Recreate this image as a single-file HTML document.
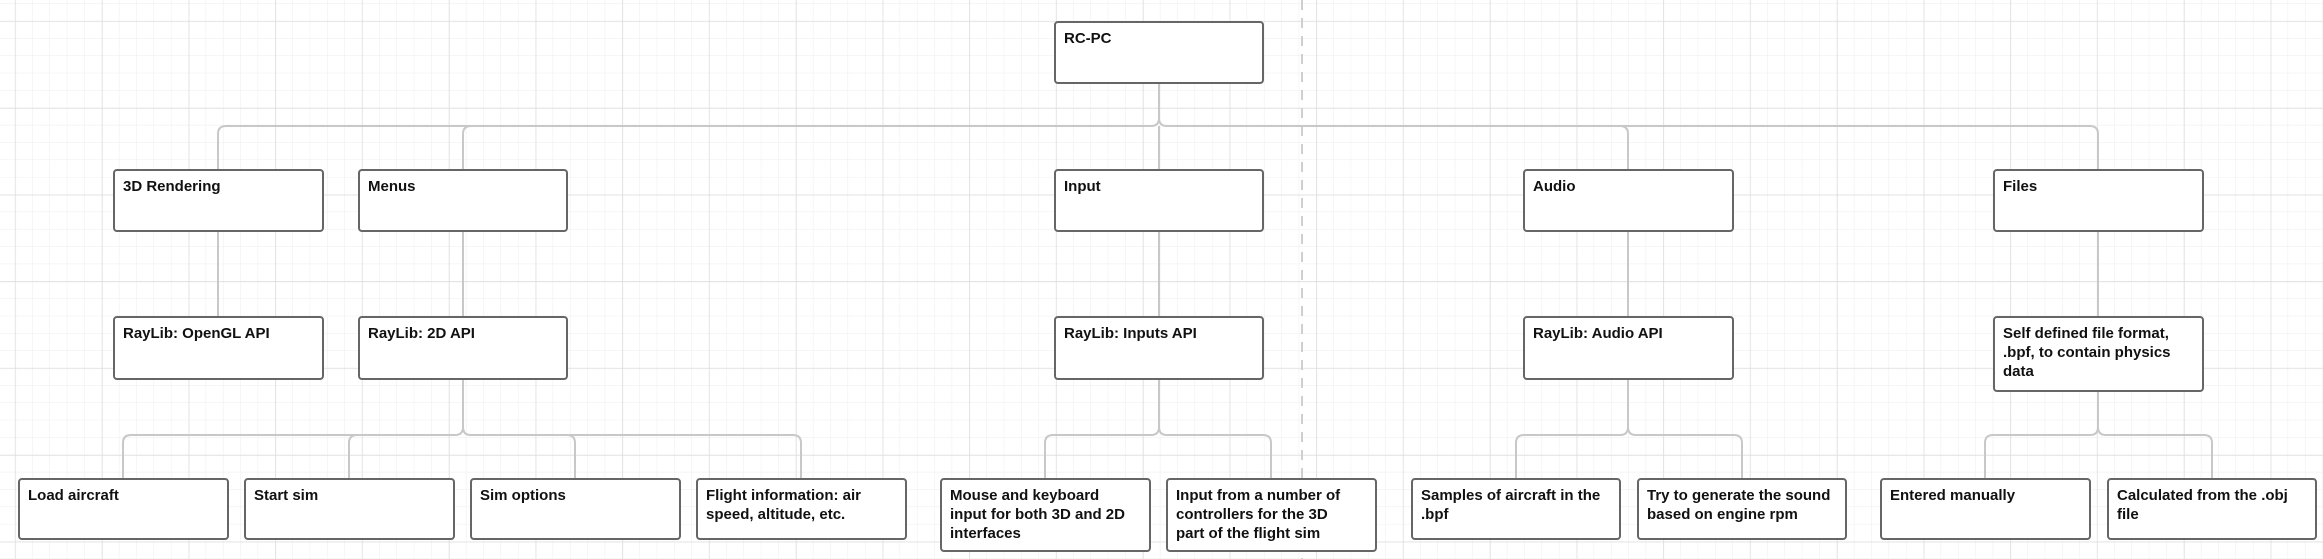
<!DOCTYPE html>
<html><head><meta charset="utf-8"><style>
html,body{margin:0;padding:0;background:#fff;}
svg{display:block;}
text{font-family:"Liberation Sans",Arial,sans-serif;font-weight:bold;font-size:15px;fill:#111;}
</style></head><body>
<svg width="2323" height="559" viewBox="0 0 2323 559" xmlns="http://www.w3.org/2000/svg">
<defs>
<pattern id="minor" x="15.25" y="21.25" width="17.35" height="17.35" patternUnits="userSpaceOnUse">
<path d="M17.35 0V17.35M0 17.35H17.35" stroke="#ededed" stroke-width="1" fill="none"/>
</pattern>
<pattern id="major" x="15.25" y="21.25" width="86.75" height="86.75" patternUnits="userSpaceOnUse">
<path d="M0 0V86.75M0 0H86.75" stroke="#dcdcdc" stroke-width="1.2" fill="none"/>
</pattern>
</defs>
<rect width="2323" height="559" fill="#fff"/>
<rect width="2323" height="559" fill="url(#minor)"/>
<rect width="2323" height="559" fill="url(#major)"/>
<line x1="1302" y1="0" x2="1302" y2="559" stroke="#cfcfcf" stroke-width="2" stroke-dasharray="10,8"/>
<g fill="none" stroke="#c8c8c8" stroke-width="2">
<!-- top bus -->
<path d="M1159 83V118Q1159 126 1151 126H226Q218 126 218 134V170"/>
<path d="M463 170V134Q463 126 471 126"/>
<path d="M1159 118Q1159 126 1167 126H2090Q2098 126 2098 134V170"/>
<path d="M1159 126V170"/>
<path d="M1620 126Q1628 126 1628 134V170"/>
<!-- verticals -->
<path d="M218 231V317"/><path d="M463 231V317"/><path d="M1159 231V317"/><path d="M1628 231V317"/><path d="M2098 231V317"/>
<!-- menus lower bus -->
<path d="M463 379V427Q463 435 455 435H131Q123 435 123 443V479"/>
<path d="M349 479V443Q349 435 357 435"/>
<path d="M463 427Q463 435 471 435H793Q801 435 801 443V479"/>
<path d="M567 435Q575 435 575 443V479"/>
<!-- input -->
<path d="M1159 379V427Q1159 435 1151 435H1053Q1045 435 1045 443V479"/>
<path d="M1159 427Q1159 435 1167 435H1263Q1271 435 1271 443V479"/>
<!-- audio -->
<path d="M1628 379V427Q1628 435 1620 435H1524Q1516 435 1516 443V479"/>
<path d="M1628 427Q1628 435 1636 435H1734Q1742 435 1742 443V479"/>
<!-- files -->
<path d="M2098 391V427Q2098 435 2090 435H1993Q1985 435 1985 443V479"/>
<path d="M2098 427Q2098 435 2106 435H2204Q2212 435 2212 443V479"/>
</g>
<g fill="#fff" stroke="#666" stroke-width="2">
<rect x="1055" y="22" width="208" height="61" rx="3"/>
<rect x="114" y="170" width="209" height="61" rx="3"/>
<rect x="359" y="170" width="208" height="61" rx="3"/>
<rect x="1055" y="170" width="208" height="61" rx="3"/>
<rect x="1524" y="170" width="209" height="61" rx="3"/>
<rect x="1994" y="170" width="209" height="61" rx="3"/>
<rect x="114" y="317" width="209" height="62" rx="3"/>
<rect x="359" y="317" width="208" height="62" rx="3"/>
<rect x="1055" y="317" width="208" height="62" rx="3"/>
<rect x="1524" y="317" width="209" height="62" rx="3"/>
<rect x="1994" y="317" width="209" height="74" rx="3"/>
<rect x="19" y="479" width="209" height="60" rx="3"/>
<rect x="245" y="479" width="209" height="60" rx="3"/>
<rect x="471" y="479" width="209" height="60" rx="3"/>
<rect x="697" y="479" width="209" height="60" rx="3"/>
<rect x="941" y="479" width="209" height="72" rx="3"/>
<rect x="1167" y="479" width="209" height="72" rx="3"/>
<rect x="1412" y="479" width="208" height="60" rx="3"/>
<rect x="1638" y="479" width="208" height="60" rx="3"/>
<rect x="1881" y="479" width="209" height="60" rx="3"/>
<rect x="2108" y="479" width="208" height="60" rx="3"/>
</g>
<text x="1064" y="43">RC-PC</text>
<text x="123" y="191">3D Rendering</text>
<text x="368" y="191">Menus</text>
<text x="1064" y="191">Input</text>
<text x="1533" y="191">Audio</text>
<text x="2003" y="191">Files</text>
<text x="123" y="338">RayLib: OpenGL API</text>
<text x="368" y="338">RayLib: 2D API</text>
<text x="1064" y="338">RayLib: Inputs API</text>
<text x="1533" y="338">RayLib: Audio API</text>
<text x="2003" y="338">Self defined file format,</text>
<text x="2003" y="357">.bpf, to contain physics</text>
<text x="2003" y="376">data</text>
<text x="28" y="500">Load aircraft</text>
<text x="254" y="500">Start sim</text>
<text x="480" y="500">Sim options</text>
<text x="706" y="500">Flight information: air</text>
<text x="706" y="519">speed, altitude, etc.</text>
<text x="950" y="500">Mouse and keyboard</text>
<text x="950" y="519">input for both 3D and 2D</text>
<text x="950" y="538">interfaces</text>
<text x="1176" y="500">Input from a number of</text>
<text x="1176" y="519">controllers for the 3D</text>
<text x="1176" y="538">part of the flight sim</text>
<text x="1421" y="500">Samples of aircraft in the</text>
<text x="1421" y="519">.bpf</text>
<text x="1647" y="500">Try to generate the sound</text>
<text x="1647" y="519">based on engine rpm</text>
<text x="1890" y="500">Entered manually</text>
<text x="2117" y="500">Calculated from the .obj</text>
<text x="2117" y="519">file</text>
</svg>
</body></html>
